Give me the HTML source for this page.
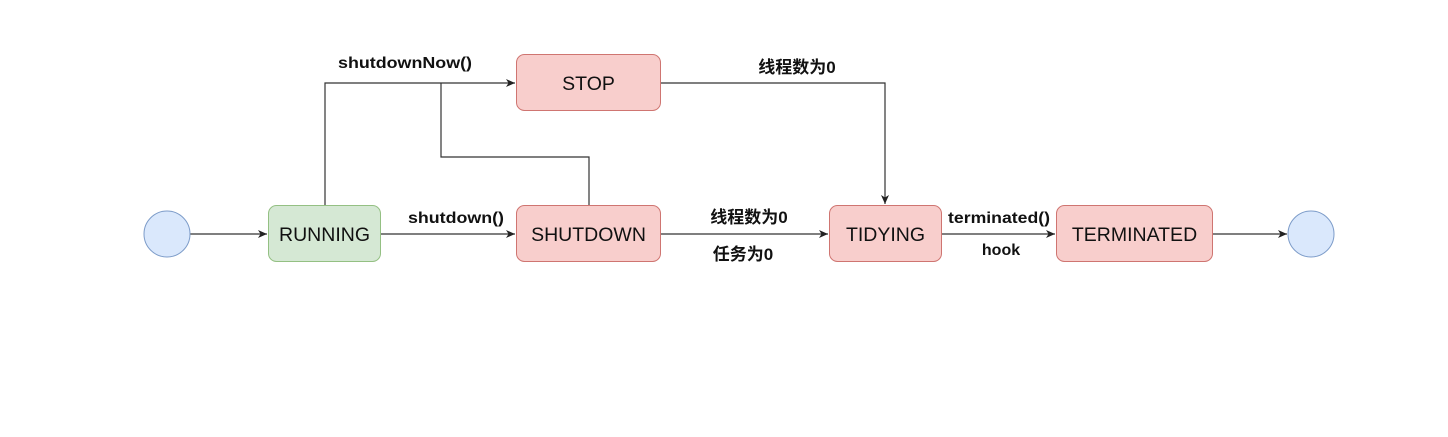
<!DOCTYPE html>
<html><head><meta charset="utf-8"><style>
html,body{margin:0;padding:0;background:#fff;}
svg text{font-family:"Liberation Sans","Noto Sans CJK SC",sans-serif;}
</style></head><body>
<svg width="1448" height="432" viewBox="0 0 1448 432" xmlns="http://www.w3.org/2000/svg">
<defs><marker id="a" markerWidth="10" markerHeight="8" refX="9" refY="4" orient="auto" markerUnits="userSpaceOnUse"><path d="M0,0 L9,4 L0,8 L2.5,4 Z" fill="#222"/></marker></defs>
<g stroke="#333" stroke-width="1.2" fill="none">
<line x1="190" y1="234" x2="267" y2="234" marker-end="url(#a)"/>
<line x1="381" y1="234" x2="515" y2="234" marker-end="url(#a)"/>
<line x1="661" y1="234" x2="828" y2="234" marker-end="url(#a)"/>
<line x1="942" y1="234" x2="1055" y2="234" marker-end="url(#a)"/>
<line x1="1213" y1="234" x2="1287" y2="234" marker-end="url(#a)"/>
<polyline points="325,205 325,83 515,83" marker-end="url(#a)"/>
<polyline points="589,205 589,157 441,157 441,83"/>
<polyline points="661,83 885,83 885,204" marker-end="url(#a)"/>
</g>
<circle cx="167" cy="234" r="23" fill="#dae8fc" stroke="#7d9cc9"/>
<circle cx="1311" cy="234" r="23" fill="#dae8fc" stroke="#7d9cc9"/>
<rect x="268.5" y="205.5" width="112" height="56" rx="8" fill="#d5e8d4" stroke="#94c083"/>
<rect x="516.5" y="205.5" width="144" height="56" rx="8" fill="#f8cecc" stroke="#cf7571"/>
<rect x="516.5" y="54.5" width="144" height="56" rx="8" fill="#f8cecc" stroke="#cf7571"/>
<rect x="829.5" y="205.5" width="112" height="56" rx="8" fill="#f8cecc" stroke="#cf7571"/>
<rect x="1056.5" y="205.5" width="156" height="56" rx="8" fill="#f8cecc" stroke="#cf7571"/>
<g font-size="19.5" text-anchor="middle" fill="#111">
<text x="324.5" y="241">RUNNING</text>
<text x="588.5" y="241">SHUTDOWN</text>
<text x="588.5" y="90">STOP</text>
<text x="885.5" y="241">TIDYING</text>
<text x="1134.5" y="241">TERMINATED</text>
</g>
<g font-size="16" font-weight="bold" text-anchor="middle" fill="#111">
<text x="405" y="68" textLength="134" lengthAdjust="spacingAndGlyphs">shutdownNow()</text>
<text x="456" y="223" textLength="96" lengthAdjust="spacingAndGlyphs">shutdown()</text>
<text x="797" y="73" font-size="17">线程数为0</text>
<text x="749" y="223" font-size="17">线程数为0</text>
<text x="743" y="260" font-size="17">任务为0</text>
<text x="999" y="223" textLength="102" lengthAdjust="spacingAndGlyphs">terminated()</text>
<text x="1001" y="255">hook</text>
</g>
</svg>
</body></html>
